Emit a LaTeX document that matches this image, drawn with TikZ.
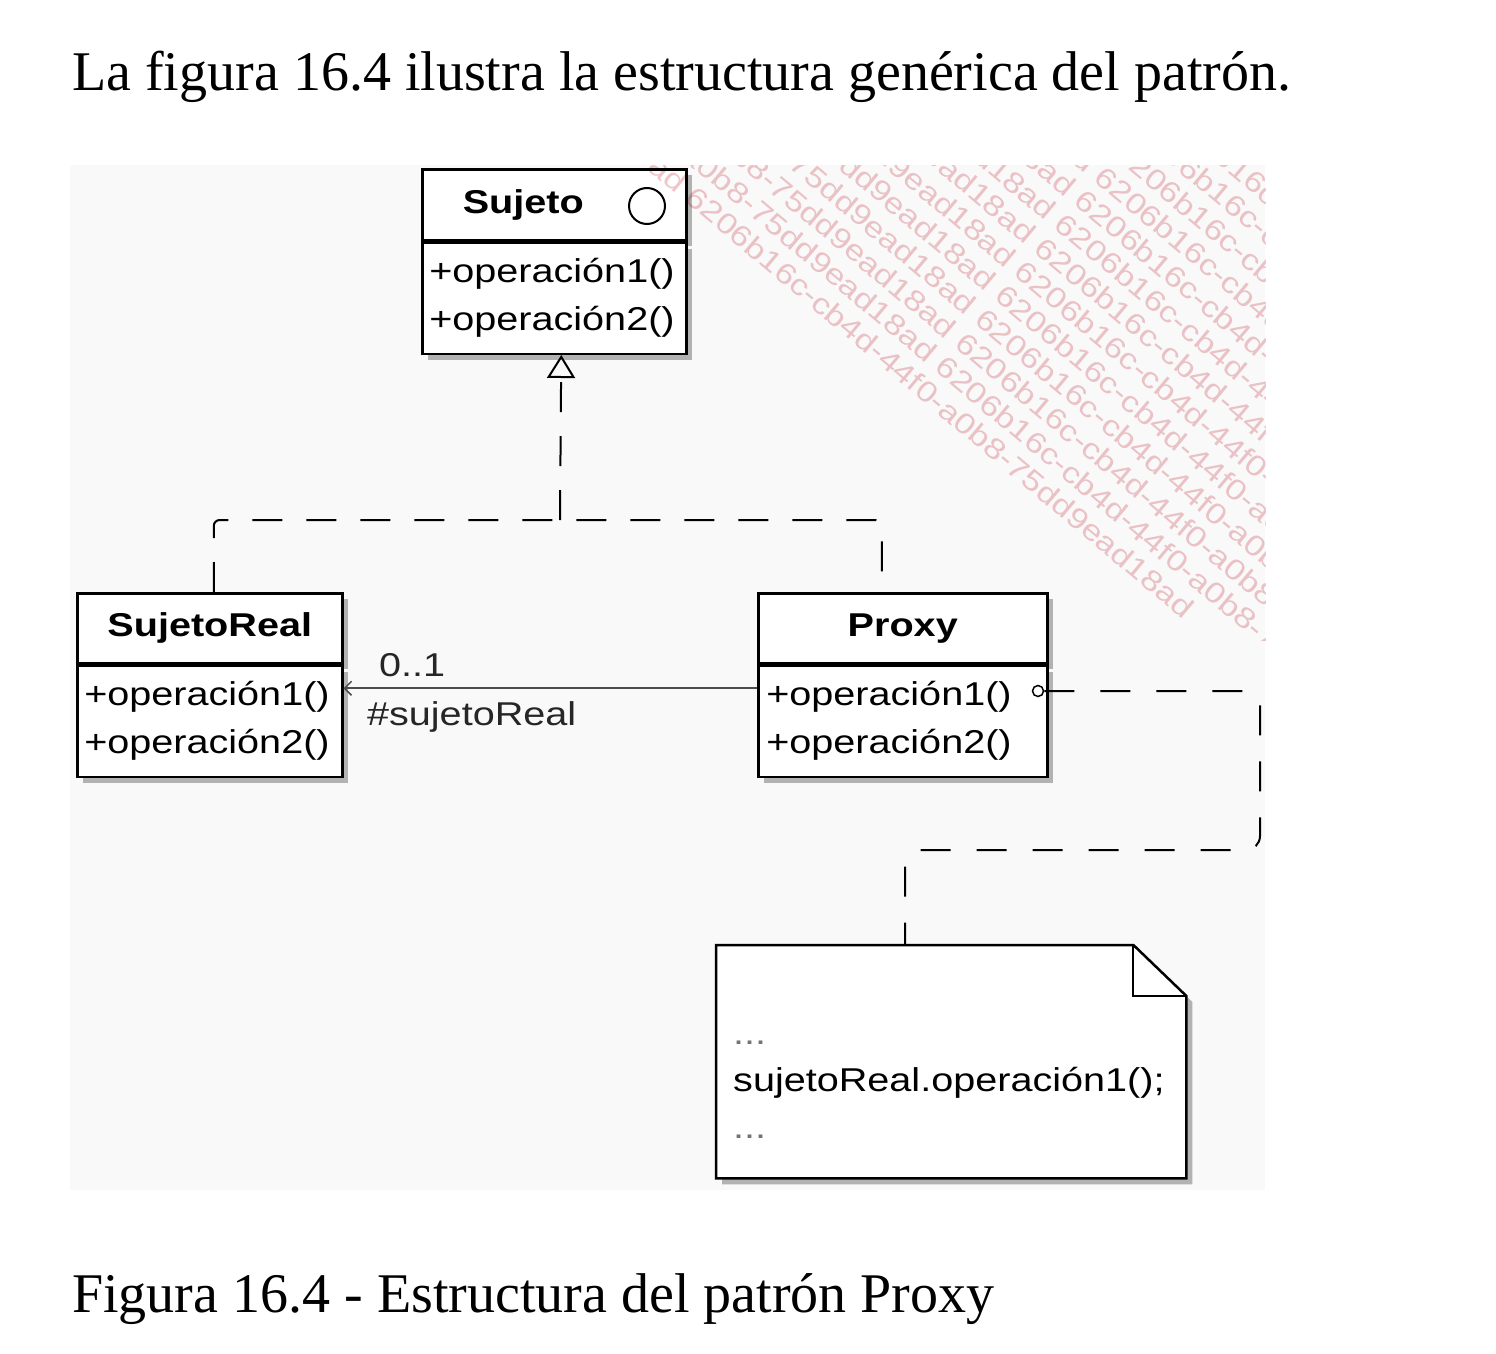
\documentclass[tikz,border=0pt]{standalone}
\usepackage{fontspec}
\setmainfont{Liberation Serif}
\newfontfamily\umlfont[FakeStretch=1.2]{Liberation Sans}
\usetikzlibrary{arrows.meta,shadows,calc}

\definecolor{wmpink}{RGB}{240,198,201}
\definecolor{boxshadow}{RGB}{178,178,178}
\definecolor{diagbg}{RGB}{249,249,249}

\tikzset{
    castshadow/.style={general shadow={fill=boxshadow, shadow xshift=6pt, shadow yshift=-6pt}},
    classhead/.style={draw, line width=2.5pt, fill=white, inner sep=0pt, minimum height=71pt,
        font=\umlfont\bfseries\fontsize{33}{40}\selectfont, castshadow},
    classops/.style={draw, line width=2.5pt, fill=white, inner xsep=7pt, inner ysep=0pt,
        minimum height=111pt, align=left, font=\umlfont\fontsize{33}{48}\selectfont, castshadow},
    umllabel/.style={font=\umlfont\fontsize{33}{40}\selectfont, text=black!85},
    realize/.style={line width=2pt, dash pattern=on 30pt off 24pt},
    noteline/.style={line width=2pt, dash pattern=on 30pt off 26pt, rounded corners=14pt},
    assoc/.style={line width=2pt, draw=black!70},
    wmark/.style={font=\umlfont\fontsize{29}{29}\selectfont, text=wmpink, anchor=east,
        rotate=-40, inner sep=0pt},
}

\begin{document}
\begin{tikzpicture}[x=1pt, y=-1pt]
    \useasboundingbox (0,0) rectangle (1496,1354);

    % Text above and below the figure
    \node[anchor=base west, inner sep=0pt, font=\fontsize{56}{67}\selectfont] (heading) at (72,90)
        {La figura 16.4 ilustra la estructura genérica del patrón.};
    \node[anchor=base west, inner sep=0pt, font=\fontsize{56}{67}\selectfont] (caption) at (72,1312)
        {Figura 16.4 - Estructura del patrón Proxy};

    % Diagram background
    \fill[diagbg] (70,165) rectangle (1265,1190);

    % Interface Sujeto
    \node[classhead, minimum width=264pt, anchor=north west] (sujeto) at (421,168) {Sujeto\hspace*{62pt}};
    \node[draw, circle, line width=2pt, minimum size=36pt, inner sep=0pt] (iface) at (647,206) {};
    \node[classops, minimum width=264pt, text width=250pt, anchor=north] (sujetoops) at (sujeto.south)
        {+operación1()\\+operación2()};

    % SujetoReal
    \node[classhead, minimum width=265pt, minimum height=70pt, anchor=north west] (real) at (76,592) {SujetoReal};
    \node[classops, minimum width=265pt, text width=251pt, anchor=north] (realops) at (real.south)
        {+operación1()\\+operación2()};

    % Proxy
    \node[classhead, minimum width=289pt, minimum height=70pt, anchor=north west] (proxy) at (757,592) {Proxy};
    \node[classops, minimum width=289pt, text width=273pt, anchor=north] (proxyops) at (proxy.south)
        {+operación1()\\+operación2()};
    \node[draw, circle, line width=1.5pt, minimum size=11pt, inner sep=0pt] (hook) at (1038,691) {};

    % Realization (dashed, open triangle)
    \coordinate (fork) at (560,520);
    \draw[realize, rounded corners=6pt] ([xshift=4pt]real.north) |- (fork) -| ([xshift=-21pt]proxy.north);
    \draw[realize, -{Triangle[open, length=23pt, width=28pt, line width=2pt]}]
        (fork) -- ([xshift=7pt]sujetoops.south);

    % Association Proxy -> SujetoReal
    \draw[assoc, -{Straight Barb[length=7pt, width=14pt, line width=1.5pt]}]
        ([yshift=33pt]proxyops.west) -- ([yshift=33pt]realops.east)
        node[umllabel, pos=0.834, above=7pt] (mult) {0..1}
        node[umllabel, pos=0.69, below=9pt] (role) {\#sujetoReal};

    % Note
    \node[minimum width=470pt, minimum height=233pt, inner sep=0pt, anchor=north west] (note) at (716,945) {};
    \draw[line width=2.5pt, fill=white, castshadow] (note.north west) -- ([xshift=-53pt]note.north east)
        -- ([yshift=-51pt]note.north east) -- (note.south east) -- (note.south west) -- cycle;
    \draw[line width=2pt] ([xshift=-53pt]note.north east) |- ([yshift=-51pt]note.north east);
    \node[anchor=west, align=left, inner sep=0pt, font=\umlfont\fontsize{33}{47}\selectfont] (notetext) at (733,1090)
        {\textcolor{black!55}{...}\\sujetoReal.operación1();\\\textcolor{black!55}{...}};

    % Note anchor line
    \coordinate (notebend) at (1260,850);
    \draw[noteline] (hook.east) -| (notebend) -| ([xshift=-46pt]note.north);

    % Watermark
    \begin{scope}[blend mode=multiply]
        \clip (630,165) rectangle (1265,640);
        \foreach \i in {0,...,13} {
            \pgfmathsetmacro\push{min(\i,1)}
            \node[wmark] (wm\i) at ($(1190,612)+\i*(19.9,-23.7)+\push*(230,193)$)
                {6206b16c-cb4d-44f0-a0b8-75dd9ead18ad 6206b16c-cb4d-44f0-a0b8-75dd9ead18ad 6206b16c-cb4d-44f0-a0b8-75dd9ead18ad};
        }
    \end{scope}
\end{tikzpicture}
\end{document}
